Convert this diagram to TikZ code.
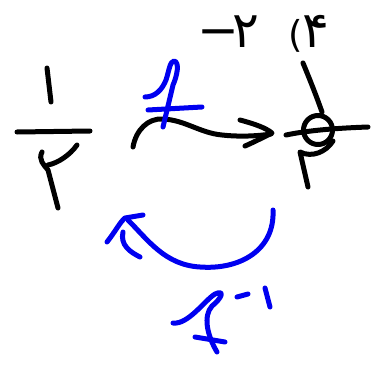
\documentclass[tikz,border=0pt]{standalone}
\usepackage{fontspec}
\newfontfamily\pfont{DejaVu Sans}
\definecolor{penblue}{RGB}{0,0,240}
\tikzset{
  ink/.style={line width=5pt, line cap=round, line join=round},
  bink/.style={ink, draw=black},
  blink/.style={ink, draw=penblue},
  glyph/.style={anchor=base, inner sep=0pt, font=\pfont\fontsize{50}{50}\selectfont},
}
\begin{document}
\begin{tikzpicture}[x=1pt,y=-1pt]
\useasboundingbox (0,0) rectangle (383,367);
\fill[white] (0,0) rectangle (383,367);
% top typed text
\node[glyph] (minus) at (218,47) {−};
\node[glyph] (two) at (246,47) {۲};
\node[glyph, font=\pfont\fontsize{37}{37}\selectfont] (paren) at (296,47) {(};
\node[glyph] (four) at (316,47) {۴};
% fraction 1/2
\draw[bink] (47,68) -- (51,102);
\draw[bink] (17,132) -- (90,131);
\draw[bink] (77,145) .. controls (70,155) and (58,163) .. (48,165);
\draw[bink] (42,152) .. controls (38,160) and (44,165) .. (48,170) -- (58,208);
% black arrow f
\draw[bink] (133,147) .. controls (136,130) and (148,118) .. (163,119)
  .. controls (185,120) and (200,133) .. (222,135)
  .. controls (240,137) and (258,136) .. (271,134);
\draw[bink] (240,120) .. controls (255,124) and (266,128) .. (272,133)
  .. controls (262,138) and (252,143) .. (245,146);
% blue f
\draw[blink] (145,97) .. controls (155,97) and (162,90) .. (166,80)
  .. controls (169,71) and (170,61) .. (174,61)
  .. controls (180,62) and (177,76) .. (173,85) -- (163,127);
\draw[blink] (148,110) -- (202,107);
% right symbol
\draw[bink] (303,63) .. controls (310,80) and (316,95) .. (322,112);
\draw[bink] (318,130) circle (14.5);
\draw[bink] (286,135) .. controls (310,130) and (340,128) .. (368,127);
\draw[bink] (333,141) .. controls (326,152) and (312,158) .. (300,152)
  -- (308,187);
% blue arrow f^-1
\draw[blink] (273,210) .. controls (275,250) and (240,270) .. (200,267)
  .. controls (165,265) and (148,240) .. (128,220);
\draw[blink] (107,242) .. controls (115,232) and (120,222) .. (125,218)
  -- (143,215);
\draw[blink] (123,232) .. controls (120,245) and (130,252) .. (140,257);
% f^-1 label
\draw[blink] (173,323) .. controls (188,325) and (205,300) .. (215,294)
  .. controls (226,289) and (221,299) .. (212,306)
  .. controls (203,316) and (207,335) .. (217,352);
\draw[blink] (195,337) -- (225,342);
\draw[blink] (237,297) -- (248,294);
\draw[blink] (265,288) -- (270,307);
\end{tikzpicture}
\end{document}
